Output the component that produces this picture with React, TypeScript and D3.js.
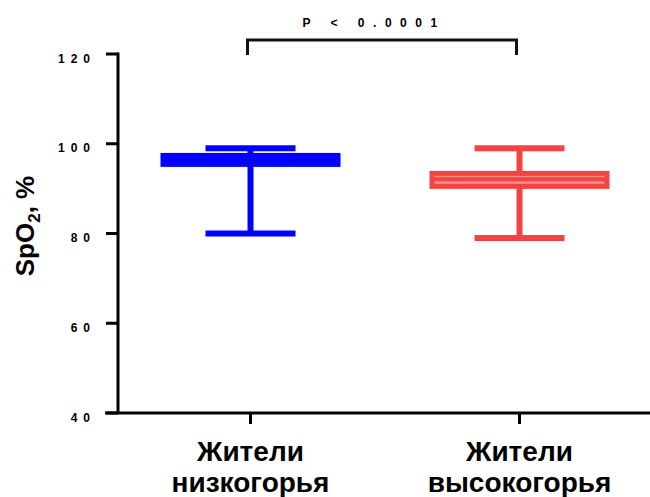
import React from "react";
import * as d3 from "d3";

// Groups and their summary statistics (SpO2, %)
const categories = ["low", "high"];
const categoryLines = [
  ["Жители", "низкогорья"],
  ["Жители", "высокогорья"],
];
const mins = [80, 79];
const q1s = [95.4, 90.5];
const medians = [96.4, 92.1];
const q3s = [97.4, 93.4];
const maxs = [99, 99];
const colors = ["#0000ff", "#f44343"];
const innerColors = ["#5c5cff", "#f88a8a"];

const yTicks = [40, 60, 80, 100, 120];
const pLabel = "P < 0.0001";

const W = 650;
const H = 497;
const FONT = "'Liberation Sans', Arial, Helvetica, sans-serif";

export default function App() {
  const y = d3.scaleLinear().domain([40, 120]).range([413, 54]);
  const x = d3.scalePoint<string>().domain(categories).range([118, 652]).padding(0.4926);

  const axisX = 118;
  const axisY = y(40);
  const boxW = 175;
  const capW = 90;

  return (
    <div style={{ position: "absolute", left: 0, top: 0 }}>
      <svg width={W} height={H} style={{ display: "block", fontFamily: FONT }}>
        <rect width={W} height={H} fill="#fff" />

        {/* boxes and whiskers */}
        {categories.map((c, i) => {
          const cx = x(c)!;
          return (
            <g key={c}>
              <line x1={cx} x2={cx} y1={y(mins[i])} y2={y(maxs[i])} stroke={colors[i]} strokeWidth={6} />
              <line x1={cx - capW / 2} x2={cx + capW / 2} y1={y(maxs[i])} y2={y(maxs[i])} stroke={colors[i]} strokeWidth={6} />
              <line x1={cx - capW / 2} x2={cx + capW / 2} y1={y(mins[i])} y2={y(mins[i])} stroke={colors[i]} strokeWidth={6} />
              <rect
                x={cx - boxW / 2}
                width={boxW}
                y={y(q3s[i])}
                height={y(q1s[i]) - y(q3s[i])}
                fill={innerColors[i]}
                stroke={colors[i]}
                strokeWidth={5}
              />
              <line x1={cx - boxW / 2} x2={cx + boxW / 2} y1={y(medians[i])} y2={y(medians[i])} stroke={colors[i]} strokeWidth={4} />
            </g>
          );
        })}

        {/* y axis */}
        <line x1={axisX} x2={axisX} y1={y(120) - 1.5} y2={axisY} stroke="#000" strokeWidth={3} />
        {yTicks.map((t) => (
          <g key={t}>
            <line x1={106} x2={axisX} y1={y(t)} y2={y(t)} stroke="#000" strokeWidth={3} />
            <text
              x={96}
              y={y(t) + 8.5}
              textAnchor="end"
              fontSize={12}
              fontWeight="bold"
              letterSpacing={6}
              fill="#000"
            >
              {String(t)}
            </text>
          </g>
        ))}

        {/* x axis */}
        <line x1={105} x2={W} y1={axisY} y2={axisY} stroke="#000" strokeWidth={3} />
        {categories.map((c, i) => (
          <g key={c}>
            <line x1={x(c)!} x2={x(c)!} y1={axisY} y2={axisY + 11} stroke="#000" strokeWidth={3} />
            <text x={x(c)!} y={461} textAnchor="middle" fontSize={28} fontWeight="bold" fill="#000">
              {categoryLines[i][0]}
            </text>
            <text x={x(c)!} y={492} textAnchor="middle" fontSize={28} fontWeight="bold" fill="#000">
              {categoryLines[i][1]}
            </text>
          </g>
        ))}

        {/* y axis title */}
        <text
          transform="translate(34,226) rotate(-90)"
          textAnchor="middle"
          fontSize={26}
          fontWeight="bold"
          fill="#000"
        >
          SpO
          <tspan fontSize={17} dy={6}>2</tspan>
          <tspan dy={-6}>, %</tspan>
        </text>

        {/* significance bracket */}
        <path
          d={`M${x(categories[0])! - 3},55 V40 H${x(categories[1])! - 3} V55`}
          fill="none"
          stroke="#111"
          strokeWidth={3}
        />
        <text x={374} y={27} textAnchor="middle" fontSize={12} fontWeight="bold" letterSpacing={8.5} fill="#000">
          {pLabel}
        </text>
      </svg>
    </div>
  );
}
